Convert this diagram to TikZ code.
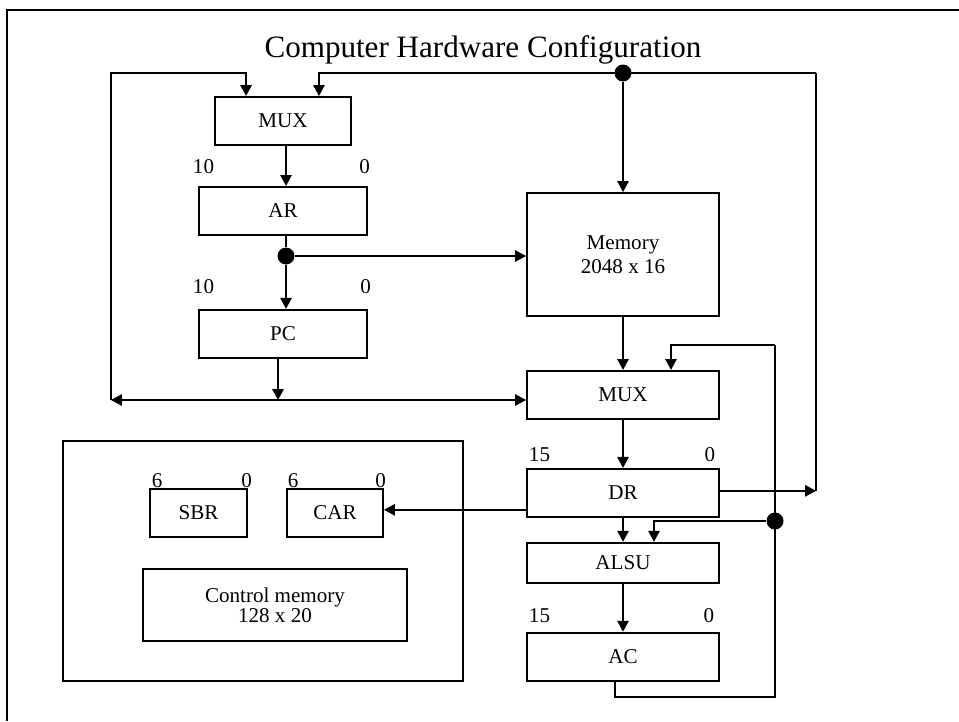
\documentclass[tikz,border=0pt]{standalone}
\usepackage{fontspec}
\setmainfont{Liberation Serif}
\usetikzlibrary{arrows.meta,positioning}

\begin{document}
\begin{tikzpicture}[x=0.02cm, y=-0.02cm, line width=1.1pt,
  >={Triangle[length=6.2pt,width=6.4pt]},
  reg/.style={draw, inner sep=0pt, align=center, minimum height=0.96cm,
    font=\fontsize{12}{14}\selectfont},
  wide/.style={reg, minimum width=3.84cm},
  bit/.style={inner sep=0pt, font=\fontsize{12}{14}\selectfont},
  dot/.style={circle, fill, inner sep=0pt, minimum size=0.34cm}
]
  \useasboundingbox (0,0) rectangle (959,721);
  \draw (7,721) -- (7,10) -- (959,10);
  \node[anchor=base, font=\fontsize{17.7}{20}\selectfont] (title) at (483,57) {Computer Hardware Configuration};

  % left column
  \node[reg, minimum width=2.72cm] (mux1) at (283,121) {MUX};
  \node[reg, minimum width=3.36cm, below=0.8cm of mux1] (ar) {AR};
  \node[reg, minimum width=3.36cm, below=1.46cm of ar] (pc) {PC};
  % right column
  \node[wide, minimum height=2.46cm] (mem) at (623,254.5) {Memory\\2048 x 16};
  \node[wide, below=1.06cm of mem] (mux2) {MUX};
  \node[wide, below=0.96cm of mux2] (dr) {DR};
  \node[wide, minimum height=0.8cm, below=0.48cm of dr] (alsu) {ALSU};
  \node[wide, below=0.96cm of alsu] (ac) {AC};
  % control unit
  \node[draw, minimum width=8cm, minimum height=4.8cm] (ctrl) at (263,561) {};
  \node[reg, minimum width=1.94cm] (sbr) at (198.5,513) {SBR};
  \node[reg, minimum width=1.92cm] (car) at (335,513) {CAR};
  \node[reg, minimum width=5.28cm, minimum height=1.44cm,
    font=\fontsize{12}{11.5}\selectfont] (cmem) at (275,605) {Control memory\\128 x 20};

  % bit numbers
  \node[bit, anchor=base west] (arhi) at (192,173) {10};
  \node[bit, anchor=base east] (arlo) at (371,173) {0};
  \node[bit, anchor=base west] (pchi) at (192,293) {10};
  \node[bit, anchor=base east] (pclo) at (372,293) {0};
  \node[bit, anchor=base west] (drhi) at (528,461) {15};
  \node[bit, anchor=base east] (drlo) at (716,461) {0};
  \node[bit, anchor=base west] (achi) at (528,622) {15};
  \node[bit, anchor=base east] (aclo) at (715,622) {0};
  \node[bit, anchor=base west] (sbrhi) at (151,487) {6};
  \node[bit, anchor=base east] (sbrlo) at (253,487) {0};
  \node[bit, anchor=base west] (carhi) at (287,487) {6};
  \node[bit, anchor=base east] (carlo) at (387,487) {0};

  % junctions and bends
  \node[dot] (jtop) at (623,73) {};
  \node[dot] (jar) at (286,256) {};
  \node[dot] (jalu) at (775,521) {};
  \coordinate (tl) at (111,73);
  \coordinate (tr) at (816,73);
  \coordinate (bl) at (111,400);
  \coordinate (fbt) at (775,345);
  \coordinate (fbb) at (775,697);
  \coordinate (drl) at ([yshift=-0.34cm]dr.west);
  \coordinate (drr) at ([yshift=0.04cm]dr.east);

  % buses
  \draw[->] (bl) -- (tl) -| ([xshift=0.64cm]mux1.north west);
  \draw[->] (tr) -| ([xshift=-0.66cm]mux1.north east);
  \draw[->] (jtop) -- (mem.north);
  \draw[->] ([xshift=0.06cm]mux1.south) -- ([xshift=0.06cm]ar.north);
  \draw (ar.south -| jar) -- (jar);
  \draw[->] (jar) -- (pc.north -| jar);
  \draw[->] (jar) -- (jar -| mem.west);
  \draw[->] ([xshift=-0.1cm]pc.south) -- ([xshift=-0.1cm]pc.south |- bl);
  \draw[<->] (bl) -- (bl -| mux2.west);
  \draw[->] (mem.south) -- (mux2.north);
  \draw[->] (mux2.south) -- (dr.north);
  \draw[->] (dr.south) -- (alsu.north);
  \draw[->] (alsu.south) -- (ac.north);
  \draw[->] (fbt) -| ([xshift=0.96cm]mux2.north);
  \draw (fbt) -- (fbb) -| ([xshift=-0.16cm]ac.south);
  \draw[->] (jalu) -| ([xshift=0.62cm]alsu.north);
  \draw[->] (drr) -- (drr -| tr);
  \draw (tr) -- (drr -| tr);
  \draw[->] (drl) -- (drl -| car.east);
\end{tikzpicture}
\end{document}
